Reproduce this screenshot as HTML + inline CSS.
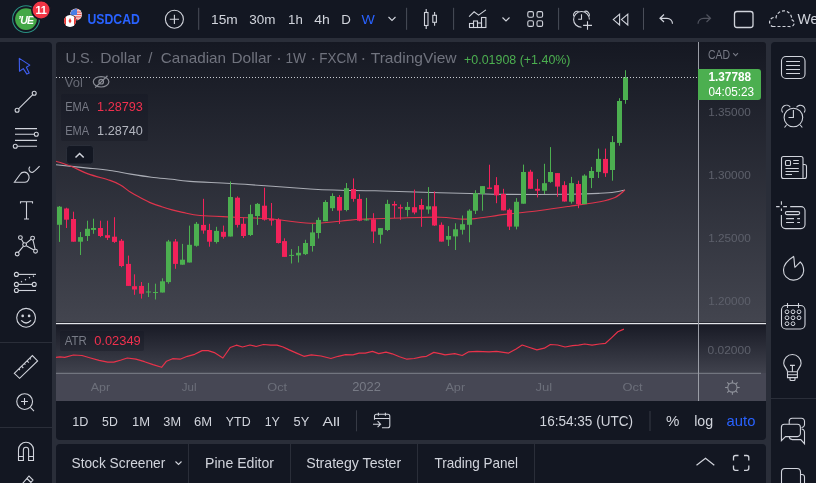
<!DOCTYPE html>
<html><head><meta charset="utf-8"><title>USDCAD</title>
<style>
html,body{margin:0;padding:0;background:#131722;width:816px;height:483px;overflow:hidden}
svg{display:block;will-change:transform;font-family:'Liberation Sans',sans-serif}
</style></head><body>
<svg width="816" height="483" viewBox="0 0 816 483" style="font-family:'Liberation Sans',sans-serif">
<defs>
<linearGradient id="gMain" x1="0" y1="0" x2="0" y2="1"><stop offset="0" stop-color="#151822"/><stop offset="1" stop-color="#43454f"/></linearGradient>
<linearGradient id="gAtr" x1="0" y1="0" x2="0" y2="1"><stop offset="0" stop-color="#181a25"/><stop offset="1" stop-color="#40424d"/></linearGradient>
<clipPath id="cpChart"><path d="M56,45 a3,3 0 0 1 3,-3 H763 a3,3 0 0 1 3,3 V401 H56 Z"/></clipPath>
<clipPath id="cpMain"><rect x="56" y="42" width="642" height="281"/></clipPath>
<clipPath id="cpAtr"><rect x="56" y="324" width="642" height="49"/></clipPath>
</defs>
<rect x="0" y="0" width="816" height="483" fill="#2a2e39"/>
<rect x="0" y="0" width="816" height="38" fill="#131722"/>
<path d="M0,42 H48 a4,4 0 0 1 4,4 V483 H0 Z" fill="#131722"/>
<path d="M775,42 H816 V483 H771 V46 a4,4 0 0 1 4,-4 Z" fill="#131722"/>
<g clip-path="url(#cpChart)">
<rect x="56" y="42" width="710" height="282" fill="url(#gMain)"/>
<rect x="56" y="324" width="710" height="49" fill="url(#gAtr)"/>
<rect x="56" y="373" width="710" height="28" fill="#464754"/>
</g>
<path d="M56,401 H766 V436 a4,4 0 0 1 -4,4 H60 a4,4 0 0 1 -4,-4 Z" fill="#131722"/>
<path d="M56,448 a4,4 0 0 1 4,-4 H762 a4,4 0 0 1 4,4 V483 H56 Z" fill="#131722"/>
<rect x="188.0" y="444" width="1" height="39" fill="#2a2e39"/>
<rect x="290.0" y="444" width="1" height="39" fill="#2a2e39"/>
<rect x="417.0" y="444" width="1" height="39" fill="#2a2e39"/>
<rect x="534.0" y="444" width="1" height="39" fill="#2a2e39"/>
<g clip-path="url(#cpMain)">
<path d="M56.0,164.8 C61.4,165.4 79.1,167.2 88.1,168.1 C97.1,169.0 102.9,169.5 110.0,170.5 C117.1,171.5 123.8,173.0 130.7,174.1 C137.6,175.2 144.5,176.3 151.4,177.2 C158.3,178.1 165.7,178.6 172.1,179.3 C178.5,180.0 177.8,180.6 190.0,181.4 C202.2,182.2 225.0,183.0 245.0,184.3 C265.0,185.6 294.2,188.0 310.0,189.0 C325.8,190.0 329.2,189.9 340.0,190.2 C350.8,190.5 358.3,190.4 375.0,190.8 C391.7,191.2 424.2,192.2 440.0,192.7 C455.8,193.1 459.2,193.2 470.0,193.5 C480.8,193.8 488.3,194.3 505.0,194.4 C521.7,194.5 554.2,194.5 570.0,194.3 C585.8,194.1 592.5,193.7 600.0,193.3 C607.5,192.9 610.8,192.6 615.0,192.0 C619.2,191.4 623.3,190.3 625.0,190.0" fill="none" stroke="#a9acb4" stroke-width="1.1"/>
<path d="M56.0,161.2 C58.6,162.1 66.2,164.4 71.6,166.5 C76.9,168.6 81.7,171.6 88.1,173.9 C94.5,176.2 104.6,178.6 110.0,180.4 C115.4,182.2 117.0,183.0 120.4,185.0 C123.9,187.0 127.3,190.1 130.7,192.3 C134.1,194.5 137.6,196.2 141.0,198.0 C144.4,199.8 147.9,201.7 151.4,203.1 C154.9,204.5 158.4,205.6 161.8,206.7 C165.2,207.8 168.7,208.9 172.1,209.9 C175.5,210.9 177.8,211.5 182.5,212.4 C187.2,213.3 192.1,214.8 200.0,215.5 C207.9,216.2 223.3,216.6 230.0,216.9 C236.7,217.2 233.3,217.2 240.0,217.5 C246.7,217.8 258.3,217.9 270.0,218.8 C281.7,219.8 298.3,222.8 310.0,223.2 C321.7,223.6 331.7,221.8 340.0,221.2 C348.3,220.5 354.2,219.7 360.0,219.3 C365.8,218.9 368.3,219.0 375.0,218.8 C381.7,218.6 389.2,218.3 400.0,218.0 C410.8,217.7 430.0,217.0 440.0,217.2 C450.0,217.4 454.2,218.8 460.0,219.0 C465.8,219.2 467.5,219.4 475.0,218.6 C482.5,217.8 494.2,215.8 505.0,214.4 C515.8,213.1 529.2,211.9 540.0,210.5 C550.8,209.1 560.0,207.7 570.0,206.2 C580.0,204.7 592.5,203.1 600.0,201.7 C607.5,200.2 610.8,199.4 615.0,197.5 C619.2,195.6 623.3,191.2 625.0,190.0" fill="none" stroke="#e0344c" stroke-width="1.15"/>
<rect x="59" y="206.0" width="1" height="35.9" fill="#4caf50"/>
<rect x="57" y="206.7" width="5" height="18.1" fill="#4caf50"/>
<rect x="66" y="207.7" width="1" height="20.3" fill="#f2225a"/>
<rect x="64" y="208.5" width="5" height="11.2" fill="#f2225a"/>
<rect x="73" y="211.7" width="1" height="30.0" fill="#f2225a"/>
<rect x="71" y="219.0" width="5" height="22.7" fill="#f2225a"/>
<rect x="80" y="232.0" width="1" height="23.0" fill="#4caf50"/>
<rect x="78" y="237.1" width="5" height="4.6" fill="#4caf50"/>
<rect x="87" y="220.7" width="1" height="20.3" fill="#4caf50"/>
<rect x="85" y="228.8" width="5" height="7.2" fill="#4caf50"/>
<rect x="93" y="218.7" width="1" height="15.1" fill="#4caf50"/>
<rect x="91" y="228.0" width="5" height="1.9" fill="#4caf50"/>
<rect x="100" y="220.7" width="1" height="16.4" fill="#f2225a"/>
<rect x="98" y="228.0" width="5" height="8.0" fill="#f2225a"/>
<rect x="107" y="220.7" width="1" height="19.3" fill="#f2225a"/>
<rect x="105" y="235.2" width="5" height="2.6" fill="#f2225a"/>
<rect x="114" y="217.2" width="1" height="25.7" fill="#f2225a"/>
<rect x="112" y="236.7" width="5" height="5.2" fill="#f2225a"/>
<rect x="121" y="239.0" width="1" height="28.2" fill="#f2225a"/>
<rect x="119" y="240.7" width="5" height="25.3" fill="#f2225a"/>
<rect x="128" y="255.6" width="1" height="30.3" fill="#f2225a"/>
<rect x="126" y="263.9" width="5" height="22.0" fill="#f2225a"/>
<rect x="134" y="274.3" width="1" height="20.5" fill="#f2225a"/>
<rect x="132" y="286.2" width="5" height="3.3" fill="#f2225a"/>
<rect x="141" y="282.0" width="1" height="16.6" fill="#f2225a"/>
<rect x="139" y="285.9" width="5" height="7.8" fill="#f2225a"/>
<rect x="148" y="282.9" width="1" height="14.1" fill="#4caf50"/>
<rect x="146" y="291.5" width="5" height="1.0" fill="#4caf50"/>
<rect x="155" y="283.7" width="1" height="15.8" fill="#4caf50"/>
<rect x="153" y="292.0" width="5" height="1.0" fill="#4caf50"/>
<rect x="162" y="278.3" width="1" height="14.2" fill="#4caf50"/>
<rect x="160" y="281.3" width="5" height="11.2" fill="#4caf50"/>
<rect x="168" y="239.9" width="1" height="43.8" fill="#4caf50"/>
<rect x="166" y="241.5" width="5" height="40.6" fill="#4caf50"/>
<rect x="175" y="239.0" width="1" height="29.8" fill="#f2225a"/>
<rect x="173" y="241.5" width="5" height="22.4" fill="#f2225a"/>
<rect x="182" y="243.9" width="1" height="20.8" fill="#4caf50"/>
<rect x="180" y="259.7" width="5" height="5.0" fill="#4caf50"/>
<rect x="189" y="225.6" width="1" height="36.9" fill="#4caf50"/>
<rect x="187" y="244.8" width="5" height="17.7" fill="#4caf50"/>
<rect x="196" y="222.0" width="1" height="24.7" fill="#4caf50"/>
<rect x="194" y="223.8" width="5" height="22.0" fill="#4caf50"/>
<rect x="203" y="198.8" width="1" height="34.9" fill="#f2225a"/>
<rect x="201" y="224.9" width="5" height="5.6" fill="#f2225a"/>
<rect x="209" y="223.8" width="1" height="22.9" fill="#f2225a"/>
<rect x="207" y="230.0" width="5" height="11.7" fill="#f2225a"/>
<rect x="216" y="226.8" width="1" height="16.7" fill="#4caf50"/>
<rect x="214" y="230.9" width="5" height="11.1" fill="#4caf50"/>
<rect x="223" y="225.6" width="1" height="13.1" fill="#f2225a"/>
<rect x="221" y="231.8" width="5" height="5.0" fill="#f2225a"/>
<rect x="230" y="181.5" width="1" height="55.0" fill="#4caf50"/>
<rect x="228" y="197.0" width="5" height="39.5" fill="#4caf50"/>
<rect x="237" y="196.4" width="1" height="31.1" fill="#f2225a"/>
<rect x="235" y="197.7" width="5" height="27.2" fill="#f2225a"/>
<rect x="243" y="217.5" width="1" height="20.5" fill="#f2225a"/>
<rect x="241" y="223.8" width="5" height="12.2" fill="#f2225a"/>
<rect x="250" y="204.8" width="1" height="31.2" fill="#4caf50"/>
<rect x="248" y="214.1" width="5" height="20.9" fill="#4caf50"/>
<rect x="257" y="203.0" width="1" height="21.9" fill="#4caf50"/>
<rect x="255" y="203.9" width="5" height="12.1" fill="#4caf50"/>
<rect x="264" y="187.7" width="1" height="32.9" fill="#f2225a"/>
<rect x="262" y="205.7" width="5" height="14.0" fill="#f2225a"/>
<rect x="271" y="203.0" width="1" height="22.6" fill="#f2225a"/>
<rect x="269" y="218.8" width="5" height="1.8" fill="#f2225a"/>
<rect x="278" y="218.2" width="1" height="25.3" fill="#f2225a"/>
<rect x="276" y="219.7" width="5" height="23.3" fill="#f2225a"/>
<rect x="284" y="238.3" width="1" height="18.6" fill="#f2225a"/>
<rect x="282" y="241.1" width="5" height="15.8" fill="#f2225a"/>
<rect x="291" y="249.1" width="1" height="14.4" fill="#4caf50"/>
<rect x="289" y="254.9" width="5" height="1.0" fill="#4caf50"/>
<rect x="298" y="246.1" width="1" height="16.4" fill="#4caf50"/>
<rect x="296" y="252.8" width="5" height="2.6" fill="#4caf50"/>
<rect x="305" y="239.8" width="1" height="15.2" fill="#4caf50"/>
<rect x="303" y="243.0" width="5" height="11.1" fill="#4caf50"/>
<rect x="312" y="224.0" width="1" height="27.6" fill="#4caf50"/>
<rect x="310" y="232.4" width="5" height="13.6" fill="#4caf50"/>
<rect x="318" y="217.5" width="1" height="21.0" fill="#4caf50"/>
<rect x="316" y="219.9" width="5" height="13.1" fill="#4caf50"/>
<rect x="325" y="200.2" width="1" height="21.0" fill="#4caf50"/>
<rect x="323" y="202.0" width="5" height="19.2" fill="#4caf50"/>
<rect x="332" y="193.3" width="1" height="17.7" fill="#4caf50"/>
<rect x="330" y="196.0" width="5" height="12.2" fill="#4caf50"/>
<rect x="339" y="195.1" width="1" height="28.9" fill="#f2225a"/>
<rect x="337" y="197.0" width="5" height="13.6" fill="#f2225a"/>
<rect x="346" y="183.0" width="1" height="28.3" fill="#4caf50"/>
<rect x="344" y="188.2" width="5" height="21.8" fill="#4caf50"/>
<rect x="353" y="178.4" width="1" height="23.3" fill="#f2225a"/>
<rect x="351" y="189.0" width="5" height="9.9" fill="#f2225a"/>
<rect x="359" y="194.2" width="1" height="27.0" fill="#f2225a"/>
<rect x="357" y="198.9" width="5" height="21.8" fill="#f2225a"/>
<rect x="366" y="197.9" width="1" height="22.7" fill="#4caf50"/>
<rect x="364" y="219.4" width="5" height="1.0" fill="#4caf50"/>
<rect x="373" y="213.2" width="1" height="29.8" fill="#f2225a"/>
<rect x="371" y="219.3" width="5" height="12.2" fill="#f2225a"/>
<rect x="380" y="228.0" width="1" height="15.6" fill="#4caf50"/>
<rect x="378" y="228.1" width="5" height="6.7" fill="#4caf50"/>
<rect x="387" y="199.8" width="1" height="31.3" fill="#4caf50"/>
<rect x="385" y="203.9" width="5" height="26.1" fill="#4caf50"/>
<rect x="394" y="201.3" width="1" height="16.7" fill="#f2225a"/>
<rect x="392" y="204.0" width="5" height="1.5" fill="#f2225a"/>
<rect x="400" y="204.5" width="1" height="15.4" fill="#f2225a"/>
<rect x="398" y="207.2" width="5" height="1.3" fill="#f2225a"/>
<rect x="407" y="202.0" width="1" height="14.6" fill="#4caf50"/>
<rect x="405" y="206.9" width="5" height="3.1" fill="#4caf50"/>
<rect x="414" y="189.6" width="1" height="24.7" fill="#f2225a"/>
<rect x="412" y="207.2" width="5" height="5.3" fill="#f2225a"/>
<rect x="421" y="198.9" width="1" height="27.9" fill="#f2225a"/>
<rect x="419" y="205.0" width="5" height="4.5" fill="#f2225a"/>
<rect x="428" y="187.1" width="1" height="26.7" fill="#4caf50"/>
<rect x="426" y="206.3" width="5" height="3.2" fill="#4caf50"/>
<rect x="434" y="191.4" width="1" height="34.5" fill="#f2225a"/>
<rect x="432" y="206.3" width="5" height="19.2" fill="#f2225a"/>
<rect x="441" y="222.4" width="1" height="19.2" fill="#f2225a"/>
<rect x="439" y="224.8" width="5" height="16.8" fill="#f2225a"/>
<rect x="448" y="226.1" width="1" height="19.9" fill="#4caf50"/>
<rect x="446" y="236.0" width="5" height="3.7" fill="#4caf50"/>
<rect x="455" y="223.3" width="1" height="26.7" fill="#4caf50"/>
<rect x="453" y="229.3" width="5" height="7.1" fill="#4caf50"/>
<rect x="462" y="215.5" width="1" height="19.0" fill="#4caf50"/>
<rect x="460" y="224.2" width="5" height="5.6" fill="#4caf50"/>
<rect x="469" y="209.3" width="1" height="33.0" fill="#4caf50"/>
<rect x="467" y="210.7" width="5" height="14.1" fill="#4caf50"/>
<rect x="475" y="190.2" width="1" height="23.8" fill="#4caf50"/>
<rect x="473" y="193.1" width="5" height="17.6" fill="#4caf50"/>
<rect x="482" y="186.1" width="1" height="24.6" fill="#4caf50"/>
<rect x="480" y="186.1" width="5" height="7.8" fill="#4caf50"/>
<rect x="489" y="164.7" width="1" height="24.2" fill="#f2225a"/>
<rect x="487" y="187.6" width="5" height="1.3" fill="#f2225a"/>
<rect x="496" y="177.1" width="1" height="26.1" fill="#f2225a"/>
<rect x="494" y="185.1" width="5" height="10.3" fill="#f2225a"/>
<rect x="503" y="188.8" width="1" height="21.6" fill="#f2225a"/>
<rect x="501" y="194.0" width="5" height="16.4" fill="#f2225a"/>
<rect x="509" y="208.5" width="1" height="21.5" fill="#f2225a"/>
<rect x="507" y="209.8" width="5" height="16.8" fill="#f2225a"/>
<rect x="516" y="198.1" width="1" height="31.3" fill="#4caf50"/>
<rect x="514" y="201.8" width="5" height="24.8" fill="#4caf50"/>
<rect x="523" y="164.6" width="1" height="39.1" fill="#4caf50"/>
<rect x="521" y="172.0" width="5" height="31.7" fill="#4caf50"/>
<rect x="530" y="169.8" width="1" height="19.0" fill="#f2225a"/>
<rect x="528" y="171.7" width="5" height="17.1" fill="#f2225a"/>
<rect x="537" y="179.1" width="1" height="18.3" fill="#f2225a"/>
<rect x="535" y="188.8" width="5" height="1.9" fill="#f2225a"/>
<rect x="544" y="163.8" width="1" height="30.2" fill="#4caf50"/>
<rect x="542" y="183.2" width="5" height="7.5" fill="#4caf50"/>
<rect x="550" y="147.1" width="1" height="35.7" fill="#4caf50"/>
<rect x="548" y="172.0" width="5" height="9.9" fill="#4caf50"/>
<rect x="557" y="173.1" width="1" height="23.7" fill="#f2225a"/>
<rect x="555" y="173.1" width="5" height="13.5" fill="#f2225a"/>
<rect x="564" y="181.3" width="1" height="20.4" fill="#f2225a"/>
<rect x="562" y="185.1" width="5" height="16.4" fill="#f2225a"/>
<rect x="571" y="176.9" width="1" height="26.7" fill="#4caf50"/>
<rect x="569" y="183.1" width="5" height="18.6" fill="#4caf50"/>
<rect x="578" y="180.7" width="1" height="27.5" fill="#f2225a"/>
<rect x="576" y="184.0" width="5" height="20.1" fill="#f2225a"/>
<rect x="584" y="174.3" width="1" height="29.8" fill="#4caf50"/>
<rect x="582" y="175.6" width="5" height="28.5" fill="#4caf50"/>
<rect x="591" y="166.9" width="1" height="21.2" fill="#4caf50"/>
<rect x="589" y="171.0" width="5" height="7.0" fill="#4caf50"/>
<rect x="598" y="148.6" width="1" height="29.4" fill="#4caf50"/>
<rect x="596" y="158.9" width="5" height="13.0" fill="#4caf50"/>
<rect x="605" y="148.6" width="1" height="28.3" fill="#f2225a"/>
<rect x="603" y="158.9" width="5" height="14.3" fill="#f2225a"/>
<rect x="612" y="136.0" width="1" height="44.7" fill="#4caf50"/>
<rect x="610" y="142.1" width="5" height="27.9" fill="#4caf50"/>
<rect x="619" y="98.2" width="1" height="47.5" fill="#4caf50"/>
<rect x="617" y="101.0" width="5" height="41.9" fill="#4caf50"/>
<rect x="625" y="70.2" width="1" height="33.6" fill="#4caf50"/>
<rect x="623" y="77.1" width="5" height="22.9" fill="#4caf50"/>
</g>
<line x1="56" y1="77.5" x2="92" y2="77.5" stroke="#c8cbd2" stroke-width="1" stroke-dasharray="1,2"/>
<line x1="111" y1="77.5" x2="698" y2="77.5" stroke="#c8cbd2" stroke-width="1" stroke-dasharray="1,2"/>
<g clip-path="url(#cpAtr)">
<polyline points="56.0,357.3 59.9,356.8 64.8,357.3 73.4,355.0 82.0,355.5 90.5,358.0 99.1,360.4 107.7,362.2 113.8,362.2 121.2,360.0 127.3,358.0 135.9,359.2 144.5,361.7 153.0,364.6 161.6,367.3 166.5,361.2 172.6,358.7 180.0,359.2 187.4,356.3 194.7,354.3 202.1,350.6 208.2,350.6 214.3,352.6 222.9,358.0 230.2,347.5 236.4,345.2 242.5,347.0 250.0,345.0 256.1,346.5 263.5,344.5 270.8,345.2 277.0,345.2 283.1,347.0 289.2,349.9 296.6,353.1 303.9,356.3 311.3,354.8 321.1,356.0 330.9,358.5 338.2,356.3 345.6,354.6 352.9,354.8 359.1,353.1 365.2,353.1 372.5,351.4 378.7,353.6 386.0,352.1 392.2,353.8 399.5,356.8 406.9,359.2 414.2,358.5 421.6,356.8 426.5,356.3 433.8,352.4 441.2,353.8 445.0,354.8 454.8,353.6 462.2,355.5 468.3,351.9 476.9,351.4 489.1,351.9 496.5,351.4 508.7,353.1 516.1,348.9 522.2,345.0 529.6,347.5 536.9,349.9 544.3,348.2 550.4,344.5 557.7,345.0 565.1,347.0 572.5,345.7 578.6,345.2 584.7,344.0 592.1,345.2 599.4,344.0 605.5,343.3 611.7,337.6 617.8,331.8 623.9,329.1" fill="none" stroke="#e8324a" stroke-width="1.2" stroke-linejoin="round"/>
</g>
<rect x="56" y="322.5" width="710" height="1" fill="#0e1018"/>
<rect x="56" y="323" width="710" height="1.2" fill="#e3e5ea"/>
<rect x="56" y="372.8" width="705" height="1" fill="#7e818b"/>
<rect x="698" y="42" width="1" height="359" fill="#9a9da6"/>
<g style="font-family:'Liberation Sans',sans-serif">
<text x="65.5" y="63.3" font-size="15" fill="#70737e" font-weight="normal" textLength="28.4" lengthAdjust="spacingAndGlyphs">U.S.</text>
<text x="100.3" y="63.3" font-size="15" fill="#70737e" font-weight="normal" textLength="40.8" lengthAdjust="spacingAndGlyphs">Dollar</text>
<text x="160.7" y="63.3" font-size="15" fill="#70737e" font-weight="normal" textLength="65.3" lengthAdjust="spacingAndGlyphs">Canadian</text>
<text x="231.5" y="63.3" font-size="15" fill="#70737e" font-weight="normal" textLength="40.2" lengthAdjust="spacingAndGlyphs">Dollar</text>
<text x="285.4" y="63.3" font-size="15" fill="#70737e" font-weight="normal" textLength="20.6" lengthAdjust="spacingAndGlyphs">1W</text>
<text x="319.3" y="63.3" font-size="15" fill="#70737e" font-weight="normal" textLength="38.2" lengthAdjust="spacingAndGlyphs">FXCM</text>
<text x="370.7" y="63.3" font-size="15" fill="#70737e" font-weight="normal" textLength="85.9" lengthAdjust="spacingAndGlyphs">TradingView</text>
<text x="148.3" y="63.3" font-size="15" fill="#70737e" font-weight="normal" text-anchor="start" letter-spacing="0" >/</text>
<circle cx="279" cy="59" r="1" fill="#70737e"/>
<circle cx="313.3" cy="59" r="1" fill="#70737e"/>
<circle cx="363.3" cy="59" r="1" fill="#70737e"/>
<text x="464.1" y="64.1" font-size="12.7" fill="#4caf50" font-weight="normal" textLength="106.4" lengthAdjust="spacingAndGlyphs">+0.01908 (+1.40%)</text>
<text x="64.8" y="86.8" font-size="12.2" fill="#676a75" font-weight="normal" textLength="18.0" lengthAdjust="spacingAndGlyphs">Vol</text>
<rect x="61" y="94" width="87" height="47" rx="2" fill="#131722" opacity="0.35"/>
<text x="65.2" y="111.3" font-size="11.9" fill="#787b86" font-weight="normal" textLength="24.0" lengthAdjust="spacingAndGlyphs">EMA</text>
<text x="97.1" y="111.3" font-size="12.2" fill="#f0304e" font-weight="normal" textLength="45.8" lengthAdjust="spacingAndGlyphs">1.28793</text>
<text x="65.2" y="134.7" font-size="11.9" fill="#787b86" font-weight="normal" textLength="24.0" lengthAdjust="spacingAndGlyphs">EMA</text>
<text x="97.1" y="134.7" font-size="12.2" fill="#b2b5be" font-weight="normal" textLength="45.8" lengthAdjust="spacingAndGlyphs">1.28740</text>
<g fill="none" stroke="#8a8d96" stroke-width="1.2"><ellipse cx="101.1" cy="81.8" rx="7.8" ry="5.2"/><circle cx="101.2" cy="81.7" r="2.3"/><line x1="95.2" y1="87.6" x2="107.5" y2="75.8"/></g>
<rect x="66.5" y="145.5" width="27" height="18.5" rx="3" fill="#131722" stroke="#2a2e39" stroke-width="1"/>
<path d="M75.5,157.5 L79.6,153.5 L83.7,157.5" fill="none" stroke="#d1d4dc" stroke-width="1.5"/>
<rect x="60" y="331" width="84" height="20" rx="2" fill="#131722" opacity="0.35"/>
<text x="64.8" y="345" font-size="11.9" fill="#787b86" font-weight="normal" textLength="22.1" lengthAdjust="spacingAndGlyphs">ATR</text>
<text x="94.2" y="345" font-size="12.2" fill="#f0304e" font-weight="normal" textLength="46.6" lengthAdjust="spacingAndGlyphs">0.02349</text>
<text x="708.0" y="58.9" font-size="12.2" fill="#787b86" font-weight="normal" textLength="22.1" lengthAdjust="spacingAndGlyphs">CAD</text>
<path d="M733.2,53.2 L735.6,55.6 L738,53.2" fill="none" stroke="#787b86" stroke-width="1.1"/>
<text x="708.3" y="115.8" font-size="11.7" fill="#5d606b" font-weight="normal" textLength="42.4" lengthAdjust="spacingAndGlyphs">1.35000</text>
<text x="708.3" y="178.9" font-size="11.7" fill="#5d606b" font-weight="normal" textLength="42.4" lengthAdjust="spacingAndGlyphs">1.30000</text>
<text x="708.3" y="241.7" font-size="11.7" fill="#5d606b" font-weight="normal" textLength="42.4" lengthAdjust="spacingAndGlyphs">1.25000</text>
<text x="708.3" y="305" font-size="11.7" fill="#5d606b" font-weight="normal" textLength="42.4" lengthAdjust="spacingAndGlyphs">1.20000</text>
<text x="707.5" y="353.5" font-size="11.7" fill="#5d606b" font-weight="normal" textLength="43.4" lengthAdjust="spacingAndGlyphs">0.02000</text>
<path d="M698,69 H758 a3,3 0 0 1 3,3 V97 a3,3 0 0 1 -3,3 H698 Z" fill="#4caf50"/>
<text x="708.4" y="81.4" font-size="12.2" fill="#ffffff" font-weight="bold" textLength="42.7" lengthAdjust="spacingAndGlyphs">1.37788</text>
<text x="708.4" y="95.6" font-size="12.2" fill="#ffffff" font-weight="normal" textLength="45.7" lengthAdjust="spacingAndGlyphs">04:05:23</text>
<text x="90.8" y="390.8" font-size="11.6" fill="#6c6f7a" font-weight="normal" textLength="19.4" lengthAdjust="spacingAndGlyphs">Apr</text>
<text x="181.8" y="390.8" font-size="11.6" fill="#6c6f7a" font-weight="normal" textLength="14.7" lengthAdjust="spacingAndGlyphs">Jul</text>
<text x="267.3" y="390.8" font-size="11.6" fill="#6c6f7a" font-weight="normal" textLength="19.8" lengthAdjust="spacingAndGlyphs">Oct</text>
<text x="352.2" y="390.8" font-size="13" fill="#777a85" font-weight="normal" textLength="28.7" lengthAdjust="spacingAndGlyphs">2022</text>
<text x="445.4" y="390.8" font-size="11.6" fill="#6c6f7a" font-weight="normal" textLength="19.8" lengthAdjust="spacingAndGlyphs">Apr</text>
<text x="535.5" y="390.8" font-size="11.6" fill="#6c6f7a" font-weight="normal" textLength="16.8" lengthAdjust="spacingAndGlyphs">Jul</text>
<text x="622.5" y="390.8" font-size="11.6" fill="#6c6f7a" font-weight="normal" textLength="20.0" lengthAdjust="spacingAndGlyphs">Oct</text>
<g fill="none" stroke="#8f929b" stroke-width="1.1"><circle cx="732.4" cy="387.5" r="4.6"/><line x1="737.00" y1="387.50" x2="739.70" y2="387.50"/><line x1="735.65" y1="390.75" x2="737.56" y2="392.66"/><line x1="732.40" y1="392.10" x2="732.40" y2="394.80"/><line x1="729.15" y1="390.75" x2="727.24" y2="392.66"/><line x1="727.80" y1="387.50" x2="725.10" y2="387.50"/><line x1="729.15" y1="384.25" x2="727.24" y2="382.34"/><line x1="732.40" y1="382.90" x2="732.40" y2="380.20"/><line x1="735.65" y1="384.25" x2="737.56" y2="382.34"/></g>
<text x="72.2" y="425.7" font-size="11.9" fill="#d1d4dc" font-weight="normal" textLength="16.2" lengthAdjust="spacingAndGlyphs">1D</text>
<text x="102.1" y="425.7" font-size="11.9" fill="#d1d4dc" font-weight="normal" textLength="15.7" lengthAdjust="spacingAndGlyphs">5D</text>
<text x="132.0" y="425.7" font-size="11.9" fill="#d1d4dc" font-weight="normal" textLength="18.1" lengthAdjust="spacingAndGlyphs">1M</text>
<text x="163.3" y="425.7" font-size="11.9" fill="#d1d4dc" font-weight="normal" textLength="17.7" lengthAdjust="spacingAndGlyphs">3M</text>
<text x="194.0" y="425.7" font-size="11.9" fill="#d1d4dc" font-weight="normal" textLength="18.1" lengthAdjust="spacingAndGlyphs">6M</text>
<text x="225.8" y="425.7" font-size="11.9" fill="#d1d4dc" font-weight="normal" textLength="24.8" lengthAdjust="spacingAndGlyphs">YTD</text>
<text x="264.7" y="425.7" font-size="11.9" fill="#d1d4dc" font-weight="normal" textLength="15.2" lengthAdjust="spacingAndGlyphs">1Y</text>
<text x="293.6" y="425.7" font-size="11.9" fill="#d1d4dc" font-weight="normal" textLength="15.7" lengthAdjust="spacingAndGlyphs">5Y</text>
<text x="322.5" y="425.7" font-size="11.9" fill="#d1d4dc" font-weight="normal" textLength="17.5" lengthAdjust="spacingAndGlyphs">All</text>
<rect x="356" y="410.3" width="1" height="21" fill="#363a45"/>
<rect x="649.5" y="411" width="1" height="20" fill="#363a45"/>
<text x="539.6" y="426" font-size="13.9" fill="#d1d4dc" font-weight="normal" textLength="93.5" lengthAdjust="spacingAndGlyphs">16:54:35 (UTC)</text>
<text x="665.9" y="426" font-size="13.9" fill="#d1d4dc" font-weight="normal" textLength="13.4" lengthAdjust="spacingAndGlyphs">%</text>
<text x="694.2" y="426" font-size="13.9" fill="#d1d4dc" font-weight="normal" textLength="19.0" lengthAdjust="spacingAndGlyphs">log</text>
<text x="726.6" y="426" font-size="13.9" fill="#2962ff" font-weight="normal" textLength="28.8" lengthAdjust="spacingAndGlyphs">auto</text>
<g fill="none" stroke="#d1d4dc" stroke-width="1.1"><path d="M374.5,419.8 V416.2 a2,2 0 0 1 2,-2 H387.8 a2,2 0 0 1 2,2 V425.7 a2,2 0 0 1 -2,2 H382"/><path d="M374.5,418.5 H389.8 M378.4,412.8 V415.8 M385.4,412.8 V415.8"/><path d="M373,424.2 H380.5 M377.6,421.2 L380.6,424.2 L377.6,427.2"/></g>
<text x="71.5" y="468.2" font-size="14.5" fill="#d1d4dc" font-weight="normal" textLength="93.8" lengthAdjust="spacingAndGlyphs">Stock Screener</text>
<path d="M175.5,461.5 L178.5,464.5 L181.5,461.5" fill="none" stroke="#d1d4dc" stroke-width="1.1"/>
<text x="205.0" y="468.2" font-size="14.5" fill="#d1d4dc" font-weight="normal" textLength="69.0" lengthAdjust="spacingAndGlyphs">Pine Editor</text>
<text x="306.2" y="468.3" font-size="14.5" fill="#d1d4dc" font-weight="normal" textLength="95.0" lengthAdjust="spacingAndGlyphs">Strategy Tester</text>
<text x="434.4" y="468.3" font-size="14.5" fill="#d1d4dc" font-weight="normal" textLength="83.7" lengthAdjust="spacingAndGlyphs">Trading Panel</text>
<path d="M696.5,465.3 L705.5,458.3 L714.3,465.3" fill="none" stroke="#d1d4dc" stroke-width="1.2"/>
<g fill="none" stroke="#d1d4dc" stroke-width="1.3"><path d="M733.5,460.5 V457.5 a2,2 0 0 1 2,-2 H738.5 M744,455.5 H746.8 a2,2 0 0 1 2,2 V460.5 M748.8,465.5 V468.3 a2,2 0 0 1 -2,2 H744 M738.5,470.3 H735.5 a2,2 0 0 1 -2,-2 V465.5"/></g>
<circle cx="26" cy="19.1" r="13.4" fill="none" stroke="#2a9182" stroke-width="1.1"/>
<circle cx="26" cy="19.1" r="10.9" fill="#43a847"/>
<text x="25.6" y="23.5" font-size="10.5" font-weight="bold" font-style="italic" fill="#fff" text-anchor="middle" letter-spacing="-0.8">’UE</text>
<circle cx="41.1" cy="10.1" r="9.3" fill="#f23645" stroke="#131722" stroke-width="1.6"/>
<text x="41.1" y="14.2" font-size="11" font-weight="bold" fill="#fff" text-anchor="middle" letter-spacing="-0.3">11</text>
<circle cx="76" cy="14.5" r="6" fill="#fff"/><clipPath id="cpUS"><circle cx="76" cy="14.5" r="5.6"/></clipPath><g clip-path="url(#cpUS)"><rect x="70" y="9.0" width="12" height="0.85" fill="#e53935"/><rect x="70" y="10.7" width="12" height="0.85" fill="#e53935"/><rect x="70" y="12.4" width="12" height="0.85" fill="#e53935"/><rect x="70" y="14.1" width="12" height="0.85" fill="#e53935"/><rect x="70" y="15.8" width="12" height="0.85" fill="#e53935"/><rect x="70" y="17.5" width="12" height="0.85" fill="#e53935"/><rect x="70" y="19.2" width="12" height="0.85" fill="#e53935"/><rect x="70" y="8.5" width="7" height="6.5" fill="#4a7fe6"/></g>
<circle cx="70" cy="21" r="6.6" fill="#131722"/><circle cx="70" cy="21" r="6" fill="#fff"/><clipPath id="cpCA"><circle cx="70" cy="21" r="6"/></clipPath><g clip-path="url(#cpCA)"><rect x="63" y="15" width="3" height="12" fill="#e53935"/><rect x="74" y="15" width="3" height="12" fill="#e53935"/></g><path d="M70,18 L71.5,21 L70,23.5 L68.5,21 Z" fill="#e53935"/>
<text x="87.5" y="23.75" font-size="14" fill="#2962ff" font-weight="bold" textLength="52.3" lengthAdjust="spacingAndGlyphs">USDCAD</text>
<g fill="none" stroke="#d1d4dc" stroke-width="1.1"><circle cx="174.4" cy="19.3" r="9"/><path d="M169.8,19.3 H179 M174.4,14.7 V23.9"/></g>
<rect x="198.2" y="7.8" width="1" height="22" fill="#4a4e59"/>
<rect x="406.1" y="7.8" width="1" height="22" fill="#4a4e59"/>
<rect x="453.1" y="7.8" width="1" height="22" fill="#4a4e59"/>
<rect x="558.1" y="7.8" width="1" height="22" fill="#4a4e59"/>
<rect x="643.0" y="7.8" width="1" height="22" fill="#4a4e59"/>
<text x="211.1" y="23.8" font-size="13.4" fill="#d1d4dc" font-weight="normal" textLength="26.7" lengthAdjust="spacingAndGlyphs">15m</text>
<text x="249.3" y="23.8" font-size="13.4" fill="#d1d4dc" font-weight="normal" textLength="26.2" lengthAdjust="spacingAndGlyphs">30m</text>
<text x="288.1" y="23.8" font-size="13.4" fill="#d1d4dc" font-weight="normal" textLength="14.7" lengthAdjust="spacingAndGlyphs">1h</text>
<text x="314.3" y="23.8" font-size="13.4" fill="#d1d4dc" font-weight="normal" textLength="15.6" lengthAdjust="spacingAndGlyphs">4h</text>
<text x="341.2" y="23.8" font-size="13.4" fill="#d1d4dc" font-weight="normal" textLength="9.6" lengthAdjust="spacingAndGlyphs">D</text>
<text x="361.5" y="23.8" font-size="13.4" fill="#2962ff" font-weight="normal" textLength="13.3" lengthAdjust="spacingAndGlyphs">W</text>
<path d="M388.5,17 L392,20.5 L395.5,17" fill="none" stroke="#d1d4dc" stroke-width="1.1"/>
<path d="M502.5,17.5 L506,21 L509.5,17.5" fill="none" stroke="#d1d4dc" stroke-width="1.1"/>
<g fill="none" stroke="#d1d4dc" stroke-width="1.1"><rect x="424.5" y="12.5" width="3.5" height="13"/><line x1="426.2" y1="9" x2="426.2" y2="12.5"/><line x1="426.2" y1="25.5" x2="426.2" y2="29"/><rect x="432.8" y="15.3" width="3.6" height="7"/><line x1="434.6" y1="12" x2="434.6" y2="15.3"/><line x1="434.6" y1="22.3" x2="434.6" y2="25.7"/></g>
<g fill="none" stroke="#d1d4dc" stroke-width="1.1"><path d="M469.1,16.7 L474.1,11.8 L478.6,15.1 L485.9,9.9"/><rect x="469.5" y="23.5" width="4" height="4"/><rect x="473.5" y="21" width="4" height="6.5"/><rect x="477.5" y="23" width="4" height="4.5"/><rect x="481.5" y="17.5" width="4.4" height="10"/></g>
<g fill="none" stroke="#d1d4dc" stroke-width="1.1"><rect x="527.8" y="11.6" width="5.6" height="5.6" rx="1.5"/><rect x="527.8" y="20.799999999999997" width="5.6" height="5.6" rx="1.5"/><rect x="537.0" y="11.6" width="5.6" height="5.6" rx="1.5"/><rect x="537.0" y="20.799999999999997" width="5.6" height="5.6" rx="1.5"/></g>
<g fill="none" stroke="#d1d4dc" stroke-width="1.1"><path d="M581.5,27.3 A7.9,7.9 0 1 1 589.4,19.4"/><path d="M573.7,16.3 A3.8,3.8 0 0 1 578.6,11.5 M584.2,11.5 A3.8,3.8 0 0 1 589.2,16.3"/><path d="M581.5,14.3 V19.2 H578.2"/><path d="M583.1,25.4 H592 M587.5,21.3 V29.7"/></g>
<g fill="none" stroke="#d1d4dc" stroke-width="1.1"><path d="M619.6,14.2 L613.3,19.6 L619.6,25 Z M627.8,14.2 L621.5,19.6 L627.8,25 Z"/></g>
<g fill="none" stroke="#d1d4dc" stroke-width="1.2"><path d="M664,14.5 L660,18.3 L664,22 M660,18.3 H667 a5.5,5.5 0 0 1 5.5,5.5"/></g>
<g fill="none" stroke="#50535e" stroke-width="1.2"><path d="M706.5,14.5 L710.5,18.3 L706.5,22 M710.5,18.3 H703.5 a5.5,5.5 0 0 0 -5.5,5.5"/></g>
<rect x="734.5" y="11.5" width="18.5" height="16" rx="2.5" fill="none" stroke="#d1d4dc" stroke-width="1.3"/>
<path d="M772.5,26.5 H789.5 A3.6,3.6 0 0 0 791.6,19.6 A7.8,7.8 0 0 0 776,17.8 A4.4,4.4 0 0 0 772.5,26.5 Z" fill="none" stroke="#d1d4dc" stroke-width="1.2" stroke-dasharray="3,2"/>
<text x="797.5" y="24.2" font-size="14" fill="#d1d4dc" font-weight="normal" text-anchor="start" letter-spacing="0" >We</text>
<rect x="0" y="342" width="52" height="1" fill="#2a2e39"/>
<rect x="0" y="427" width="52" height="1" fill="#2a2e39"/>
<path d="M19.3,58.4 L19.5,71.2 L23.3,68.6 L26.9,74.1 L29.2,72.9 L26.4,67.3 L29.8,65.1 Z" fill="none" stroke="#3f5ef0" stroke-width="1.1" stroke-linejoin="round"/>
<g fill="none" stroke="#d1d4dc" stroke-width="1.1"><circle cx="17.1" cy="110.3" r="2"/><circle cx="34.2" cy="93.3" r="2"/><line x1="18.5" y1="108.9" x2="32.8" y2="94.7"/></g>
<g fill="none" stroke="#d1d4dc" stroke-width="1.1"><path d="M15,128.6 H37 M15,134.3 H34.3 M15,140.4 H37 M17.4,146.3 H37"/><circle cx="36.3" cy="134.3" r="2"/><circle cx="15.3" cy="146.3" r="2"/></g>
<g fill="none" stroke="#d1d4dc" stroke-width="1.1"><path d="M14.4,182.3 L20.2,174.2 C22,171.5 27,171 28.8,175.5 C29.8,178.5 28,182 25,182.3 Z"/><path d="M30,166.7 C28,168.5 29,172 32,172.5 C33.5,172.5 35,171 39.6,166.1"/></g>
<g fill="none" stroke="#d1d4dc" stroke-width="1.1"><path d="M20.5,203.5 V201.8 H32.5 V203.5 M26.5,201.8 V219 M24,219 H29"/></g>
<g fill="none" stroke="#d1d4dc" stroke-width="1.1"><circle cx="20.4" cy="237.6" r="1.9"/><circle cx="32.6" cy="238.1" r="1.9"/><circle cx="24.6" cy="244.6" r="1.9"/><circle cx="17.2" cy="254" r="1.9"/><circle cx="35.5" cy="251.2" r="1.9"/><path d="M21.4,239.2 L23.6,243 M26.1,243.4 L31.1,239.3 M33,240 L35.1,249.3 M26.3,245.8 L33.8,250 M23.5,246.2 L18.3,252.4"/></g>
<g fill="none" stroke="#d1d4dc" stroke-width="1.1"><circle cx="16.4" cy="274.4" r="2"/><path d="M18.4,274.4 H36"/><circle cx="16.4" cy="284.4" r="2"/><circle cx="34.2" cy="284.4" r="2"/><path d="M18.4,284.4 H32.2"/><circle cx="16.4" cy="290.5" r="2"/><path d="M18.4,290.5 H36"/><path d="M21,282 l1,-0.6 M25,280 l1,-0.6 M29,278 l1,-0.6 M33,276.5 l1,-0.6" stroke-width="1.3"/></g>
<g fill="none" stroke="#d1d4dc" stroke-width="1.1"><circle cx="26.1" cy="317.8" r="9.4"/><path d="M21.2,320.4 Q26.1,325.6 31,320.4" stroke-width="1.3"/></g><circle cx="22.7" cy="315.9" r="1.35" fill="#d1d4dc"/><circle cx="29.1" cy="315.9" r="1.35" fill="#d1d4dc"/>
<g fill="none" stroke="#d1d4dc" stroke-width="1.1"><path d="M14.3,373.3 L32.4,355.5 L37.6,360.9 L19.6,378.3 Z"/><path d="M18.8,368.9 l1.1,1.1 M21.5,366.2 l1.8,1.8 M24.3,363.5 l1.1,1.1 M27.0,360.8 l1.8,1.8 M29.7,358.2 l1.1,1.1"/></g>
<g fill="none" stroke="#d1d4dc" stroke-width="1.1"><circle cx="24.65" cy="401.6" r="7.9"/><path d="M30.4,407.4 L34,411.1 M24.5,398.1 V404.9 M21,401.5 H27.9"/></g>
<g fill="none" stroke="#d1d4dc" stroke-width="1.1"><path d="M18.5,460.5 V449.8 a7.5,7.5 0 0 1 15,0 V460.5 H28.6 V449.8 a2.6,2.6 0 0 0 -5.2,0 V460.5 Z M18.5,456.5 H23.4 M28.6,456.5 H33.5"/></g>
<g fill="none" stroke="#d1d4dc" stroke-width="1.1"><path d="M17,490 L29,476 L33,480 L21,494 M27,478.5 L31,482.5"/></g>
<g fill="none" stroke="#d1d4dc" stroke-width="1.1"><rect x="781.5" y="56.5" width="23.5" height="22" rx="4.5"/><path d="M786.1,61.5 H800 M786.1,65.5 H800 M786.1,69.5 H800 M786.1,73.5 H800"/></g>
<g fill="none" stroke="#d1d4dc" stroke-width="1.1"><circle cx="793.4" cy="117.5" r="9.3"/><path d="M793.4,110 V117.5 H788.5"/><path d="M782.6,112.5 A4.5,4.5 0 0 1 790.3,107.3 M796.5,107.3 A4.5,4.5 0 0 1 804.2,112.5"/><path d="M786.5,125 L784.5,127.5 M800.3,125 L802.3,127.5"/></g>
<g fill="none" stroke="#d1d4dc" stroke-width="1.1"><path d="M803,164.5 H804.5 a2,2 0 0 1 2,2 V176.5 a2,2 0 0 1 -2,2 H783.5 a2,2 0 0 1 -2,-2 V158.5 a2,2 0 0 1 2,-2 H801 a2,2 0 0 1 2,2 V178"/><rect x="785.5" y="160.5" width="5" height="5" rx="1"/><path d="M793.2,160.5 H798.8 M793.2,163.5 H798.8 M785.5,168.5 H798.8 M785.5,171.5 H798.8 M785.5,174.5 H792"/></g>
<g fill="none" stroke="#d1d4dc" stroke-width="1.1"><path d="M781.4,201.2 V204.8 M781.4,208.4 V211 M776.1,206.6 H779.6 M783.2,206.6 H787"/><path d="M790.2,206.6 H801 a4,4 0 0 1 4,4 V224.6 a4,4 0 0 1 -4,4 H785.4 a4,4 0 0 1 -4,-4 V215"/><rect x="785.3" y="211.6" width="14.4" height="3" rx="1.5"/><path d="M786.1,218.6 H794 M797.2,218.6 H800 M786.1,222.5 H794 M797.2,222.5 H800"/></g>
<g fill="none" stroke="#d1d4dc" stroke-width="1.1"><path d="M793.6,256.5 C788,260 783.5,264 783.5,270 A10,9.5 0 0 0 803.7,271 C803.7,267 802.5,264 800.2,262 L795,267.3 C794,264 794.5,259 793.6,256.5 Z"/></g>
<g fill="none" stroke="#d1d4dc" stroke-width="1.1"><rect x="781.5" y="305.5" width="23.5" height="23.5" rx="4.5"/><path d="M787.5,303 V308 M798.5,303 V308"/></g><circle cx="787.0" cy="311.8" r="1.9" fill="none" stroke="#d1d4dc" stroke-width="1"/><circle cx="793.0" cy="311.8" r="1.9" fill="none" stroke="#d1d4dc" stroke-width="1"/><circle cx="799.0" cy="311.8" r="1.9" fill="none" stroke="#d1d4dc" stroke-width="1"/><circle cx="787.0" cy="317.8" r="1.9" fill="none" stroke="#d1d4dc" stroke-width="1"/><circle cx="793.0" cy="317.8" r="1.9" fill="none" stroke="#d1d4dc" stroke-width="1"/><circle cx="799.0" cy="317.8" r="1.9" fill="none" stroke="#d1d4dc" stroke-width="1"/><circle cx="787.0" cy="323.7" r="1.9" fill="none" stroke="#d1d4dc" stroke-width="1"/><circle cx="793.0" cy="323.7" r="1.9" fill="none" stroke="#d1d4dc" stroke-width="1"/>
<g fill="none" stroke="#d1d4dc" stroke-width="1.1"><path d="M787.5,371.8 C787.5,369 783.7,367 783.7,363.2 A8.7,8.7 0 1 1 801.1,363.2 C801.1,367 797.4,369 797.4,371.8"/><path d="M787.5,371.8 H797.4 V377.6 H787.5 Z M787.5,374.7 H797.4 M790,377.6 V379.5 a1,1 0 0 0 1,1 H794 a1,1 0 0 0 1,-1 V377.6 M790,365.4 H794.9 M792.4,365.4 V371.8"/></g>
<rect x="771" y="398" width="45" height="1" fill="#2a2e39"/>
<g fill="none" stroke="#d1d4dc" stroke-width="1.1"><path d="M785.5,436.6 H797.4 a3,3 0 0 0 3,-3 V427.3 a3,3 0 0 0 -3,-3 H784.4 a3,3 0 0 0 -3,3 V440.7 Z"/><path d="M789.2,424.3 V421.3 a3,3 0 0 1 3,-3 H801.5 a3,3 0 0 1 3,3 V424.5 a3,3 0 0 1 -3,3 M801.5,429 a3,3 0 0 1 3,3 V443.7 L800.8,439.6 H792.3 a3,3 0 0 1 -3,-3"/></g>
<g fill="none" stroke="#d1d4dc" stroke-width="1.1"><path d="M781.5,484 V472 a3.5,3.5 0 0 1 3.5,-3.5 H797 a3.5,3.5 0 0 1 3.5,3.5 V484 M800.5,474.5 H802 a2.5,2.5 0 0 1 2.5,2.5 V484"/></g>
</svg>
</body></html>
